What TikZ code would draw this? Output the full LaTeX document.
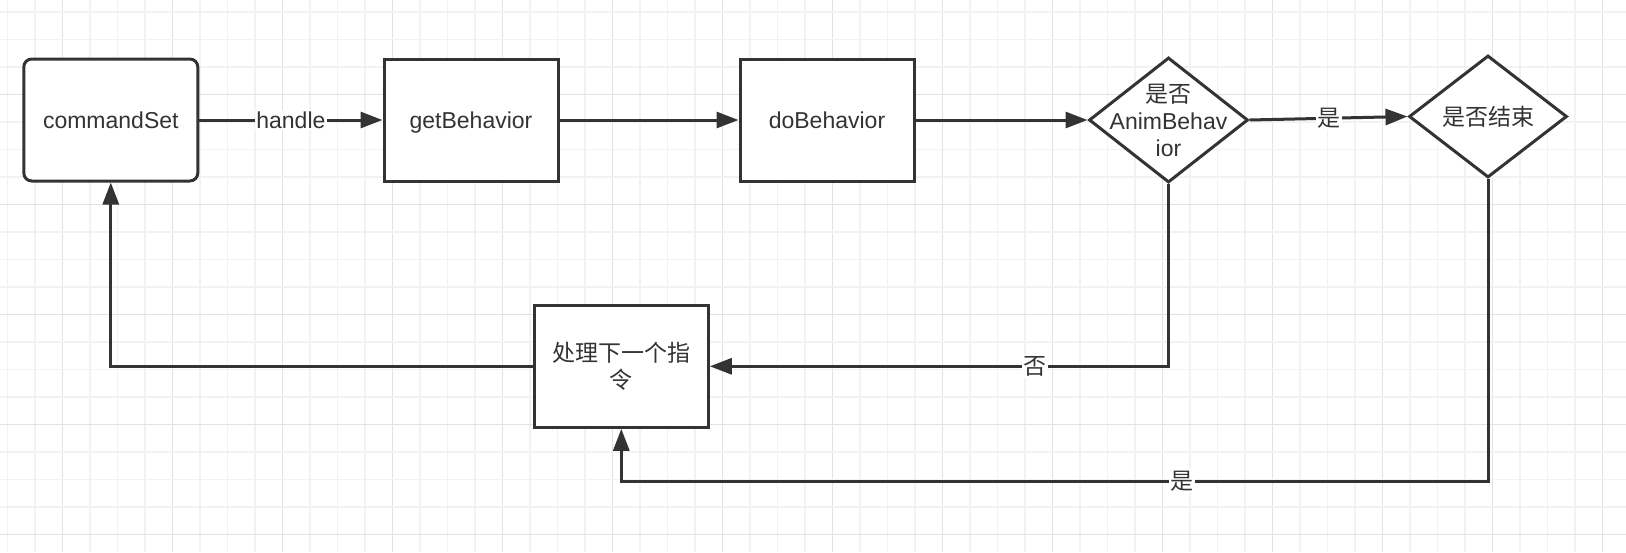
\documentclass[tikz,border=0pt]{standalone}
\usepackage{fontspec}
\setmainfont{Liberation Sans}
\newfontfamily\cjk{Noto Sans CJK SC}
\usetikzlibrary{arrows.meta,shapes.geometric}
\definecolor{lc}{HTML}{333333}
\definecolor{gminor}{HTML}{F2F2F2}
\definecolor{gmajor}{HTML}{E2E2E2}
\begin{document}
\begin{tikzpicture}[x=1pt,y=-1pt,
  every node/.style={font=\fontsize{23}{27}\selectfont, text=lc},
  box/.style={draw=lc, line width=3pt, fill=white, minimum width=174pt, minimum height=122pt, inner sep=0pt, align=center},
  one/.style={text height=16.6pt, text depth=0pt},
  dia/.style={diamond, draw=lc, line width=3pt, fill=white, inner sep=0pt},
  arr/.style={draw=lc, line width=3pt, -{Triangle[length=22pt,width=16pt]}},
  lbl/.style={fill=white, inner sep=1.5pt}
]
\useasboundingbox (0,0) rectangle (1626,552);
\fill[white] (0,0) rectangle (1626,552);
% grid
\foreach \i in {0,...,58}{
  \pgfmathsetmacro\gx{7.3+27.5*\i}
  \pgfmathtruncatemacro\m{mod(\i,4)}
  \ifnum\m=2 \def\gc{gmajor}\else\def\gc{gminor}\fi
  \draw[\gc, line width=1.5pt] (\gx,0) -- (\gx,552);
}
\foreach \j in {0,...,19}{
  \pgfmathsetmacro\gy{11.8+27.5*\j}
  \pgfmathtruncatemacro\m{mod(\j,4)}
  \ifnum\m=3 \def\gc{gmajor}\else\def\gc{gminor}\fi
  \draw[\gc, line width=1.5pt] (0,\gy) -- (1626,\gy);
}
% nodes
\node[box, one, rounded corners=8pt] (cs) at (110.8,120) {commandSet};
\node[box, one] (gb) at (471,120) {getBehavior};
\node[box, one] (db) at (827,120) {doBehavior};
\node[dia, minimum width=159pt, minimum height=125pt,
  label={[align=center, font=\fontsize{23}{27}\selectfont, text=lc]center:{\cjk 是否}\\AnimBehav\\ior}] (d1) at (1168.5,120) {};
\node[dia, minimum width=158pt, minimum height=122pt,
  label={[font=\fontsize{23}{27}\selectfont, text=lc]center:{\cjk 是否结束}}] (d2) at (1488,116.5) {};
\node[box] (pr) at (621.3,366.3) {\cjk 处理下一个指\\\cjk 令};
\coordinate (b) at (0,481);
% edges
\draw[arr] (cs.east) -- node[lbl, one]{handle} (gb.west);
\draw[arr] (gb.east) -- (db.west);
\draw[arr] (db.east) -- (d1.west);
\draw[arr] (d1.east) -- node[lbl]{\cjk 是} (d2.west);
\draw[arr] (d1.south) |- node[lbl, pos=0.646]{\cjk 否} (pr.east);
\draw[arr] (d2.south) -- (d2.south |- b) -- node[lbl, pos=0.353]{\cjk 是} (pr.south |- b) -- (pr.south);
\draw[arr] (pr.west) -| (cs.south);
\end{tikzpicture}
\end{document}
